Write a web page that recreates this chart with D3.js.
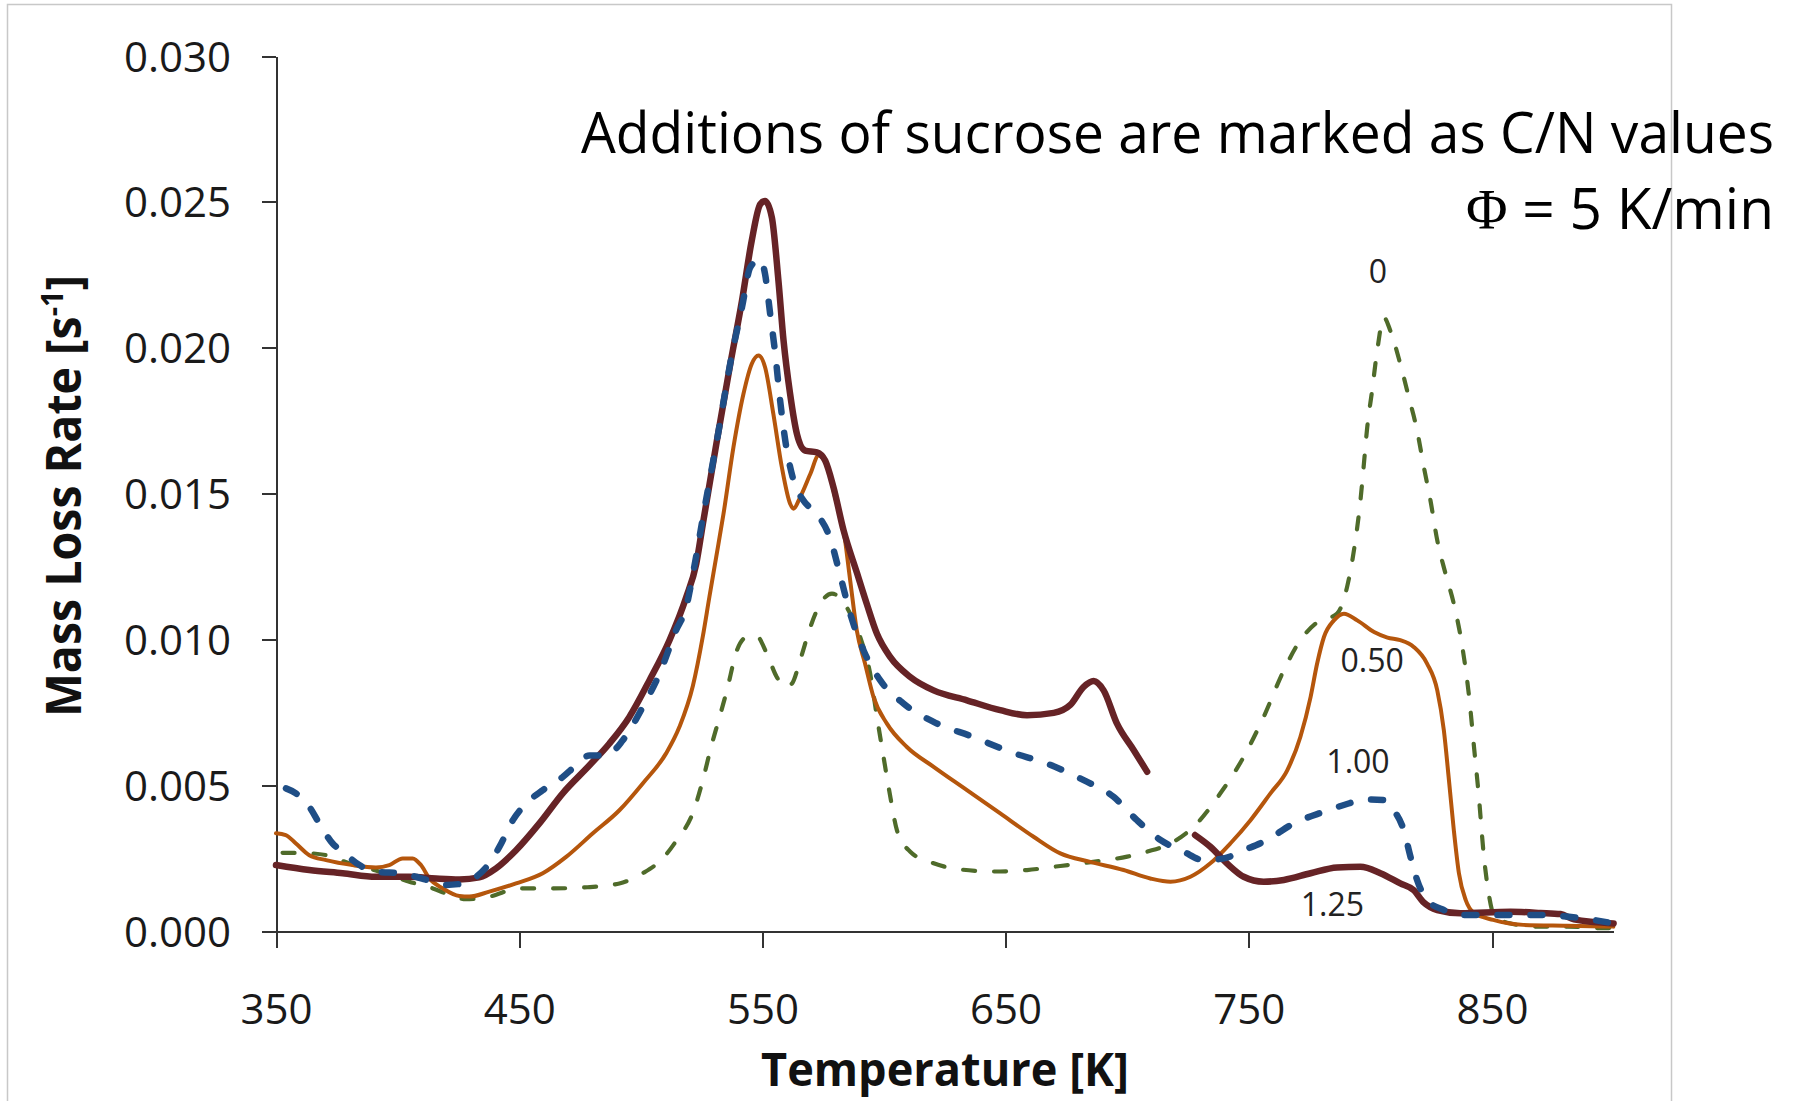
<!DOCTYPE html>
<meta charset="utf-8">
<style>
body { margin: 0; background: #fff; }
text { font-family: "Open Sans", sans-serif; fill: #1a1a1a; }
.axis path, .axis line { stroke: #333; stroke-width: 2; shape-rendering: crispEdges; }
.axis text { font-size: 42px; fill: #1a1a1a; }
.curve { fill: none; stroke-linejoin: round; }
</style>
<body>
<script src="https://d3js.org/d3.v7.min.js"></script>
<script>

// C/N = 0 (no sucrose)
var tempCN0 = [352.7,362,370.6,380,392,404.8,414.5,422,428,437.7,450,463.8,478,491.2,500.8,509,514.8,521.4,525.5,528.9,532.4,535.4,539.5,543.6,547.7,551.8,555.9,559.4,562.1,565.5,569.7,573.8,578.6,582.7,586.1,590.2,594.3,597.1,599.8,602.6,605.3,610.8,620.4,631.4,645.1,658.8,672.5,686,700,708.2,719.1,728.7,738.3,747.9,756.1,764.4,771.2,778.1,786.3,790.4,793.5,795.9,797.2,798.7,800.7,802.8,805.5,808.2,812.3,815.8,819.2,822,824.7,827.5,830.9,834.3,837.8,840.6,842.6,844.5,846.6,848.8,851,858,868.6,881,894.7,900];
var rateCN0 = [0.00268,0.00267,0.0026,0.00232,0.00205,0.00169,0.00146,0.00122,0.00109,0.00118,0.00146,0.00146,0.0015,0.00163,0.00198,0.00249,0.00312,0.00405,0.00517,0.00631,0.00734,0.00825,0.00962,0.01008,0.0101,0.00951,0.00871,0.00837,0.00848,0.00928,0.01042,0.01122,0.01157,0.01134,0.01088,0.01008,0.00883,0.00734,0.00597,0.0046,0.00346,0.00272,0.00232,0.00211,0.00204,0.00209,0.00223,0.00237,0.00255,0.00272,0.00306,0.00369,0.00472,0.00597,0.00734,0.00894,0.00997,0.01058,0.01088,0.01179,0.0132,0.01476,0.0159,0.01727,0.01853,0.0199,0.02104,0.02058,0.01944,0.0183,0.01716,0.0159,0.01476,0.01339,0.01225,0.01122,0.00974,0.00802,0.00631,0.0047,0.00262,0.0012,0.0005,0.00025,0.00015,0.00015,0.0001,0.0001];

// C/N = 0.50
var tempCN050 = [350,354,358.2,363.7,370.6,381.5,391.1,396.6,402.1,406.2,409.6,413.1,418.6,425.4,429.5,437.7,448.7,459.7,469.3,480.3,491.2,500.8,510.4,515.9,521.4,525.5,528.2,531,534,538.1,542.2,545.6,548.4,551.1,554.5,558,561.4,562.8,565.5,569.7,573.1,576.5,579.9,583.4,586.1,588.8,592.2,595.7,601.2,609.4,620.4,634.1,647.8,661.5,672.5,684.8,698.5,709.5,717.8,726,734.2,742.4,750.7,758.9,765.8,771.2,775.4,778.1,780.9,785,789.1,794.6,801.5,807,812.3,817.8,823.3,827.5,830.2,832.3,834.3,836.4,839.2,842.6,850.5,862.8,880.7,899.9];
var rateCN050 = [0.00335,0.00329,0.003,0.0026,0.00243,0.00226,0.00218,0.00226,0.00249,0.00249,0.00226,0.0018,0.00146,0.0012,0.00118,0.00135,0.00163,0.00198,0.00254,0.00335,0.00414,0.00506,0.00609,0.007,0.0084,0.0101,0.01145,0.01282,0.0143,0.01659,0.01841,0.01944,0.01973,0.01933,0.01773,0.0159,0.01465,0.01448,0.01487,0.01567,0.0163,0.01602,0.01487,0.01373,0.01202,0.01031,0.00917,0.00802,0.00711,0.00631,0.00563,0.00483,0.00403,0.00323,0.00266,0.00237,0.00209,0.0018,0.00169,0.00186,0.00232,0.003,0.0038,0.00472,0.00551,0.00665,0.00802,0.00917,0.01008,0.01065,0.01088,0.01065,0.01025,0.01006,0.00997,0.00974,0.00917,0.00825,0.00688,0.00517,0.00346,0.00198,0.00106,0.00062,0.00038,0.00021,0.00018,0.00015];

// C/N = 1.00
var tempCN100 = [354.1,358.2,363.7,367.8,373.3,377.4,384.3,391.1,402.1,407.6,414.5,419.9,426.8,432.3,437.7,441.9,447.4,452.8,459.7,467.9,473.4,478.9,485.7,492.6,500.8,507.7,514.5,518.7,521.7,525.8,531.3,537.5,541.6,545,549.1,551.1,553.2,555.3,557.3,559.4,562.8,566.9,572.4,577.9,582,586.1,591.6,598.4,608,620.4,636.8,651.9,667,682.1,694.4,704,713.7,723.2,731.4,739.7,747.9,757.5,768.5,780.9,789.1,798.7,805.5,809.6,813.7,816.5,819.2,823.3,830.2,837.2,850.5,869.8,887.6,900];
var rateCN100 = [0.00489,0.00472,0.00426,0.00369,0.003,0.00272,0.00226,0.00203,0.00198,0.00186,0.00169,0.00158,0.00163,0.00186,0.00232,0.00289,0.0038,0.00437,0.00483,0.00528,0.00568,0.00602,0.00602,0.00654,0.00768,0.00882,0.01031,0.01111,0.01236,0.0143,0.01682,0.01978,0.02138,0.02275,0.02304,0.02252,0.02115,0.01978,0.01818,0.01682,0.01545,0.01476,0.0143,0.01345,0.01219,0.01088,0.00962,0.0086,0.0078,0.00717,0.00665,0.00614,0.00574,0.00517,0.0046,0.0038,0.00312,0.00272,0.00243,0.00249,0.00277,0.00312,0.00369,0.00409,0.00432,0.00451,0.00449,0.00414,0.00346,0.00254,0.00175,0.00106,0.00072,0.00055,0.00055,0.00055,0.00043,0.00026];

// C/N = 1.25, measured in two runs (gap between them)
var tempCN125a = [350,363.7,377.4,391.1,404.8,415.8,425.4,433.6,440.5,448.7,458.3,467.9,478.9,487.1,495.3,503.6,511.8,518.7,522.8,525.6,531.3,536.8,541.6,545.6,549.1,551.1,553.9,556.6,558.7,561.4,564.2,567.6,572.4,575.8,579.2,583.4,588.8,592.9,597.1,602.6,610.8,620.4,634.1,647.8,658.8,669.8,676.6,682.1,686.2,690.3,695.8,702.7,708.2];
var rateCN125a = [0.00226,0.00209,0.00198,0.00186,0.00186,0.0018,0.00177,0.00184,0.00215,0.00277,0.00369,0.00472,0.00568,0.00643,0.00734,0.0086,0.00997,0.01145,0.01259,0.014,0.01682,0.01944,0.02161,0.02366,0.02492,0.02503,0.02446,0.02229,0.02024,0.01841,0.01704,0.01647,0.01641,0.01613,0.01522,0.01373,0.0123,0.01122,0.01019,0.00939,0.00871,0.00825,0.00791,0.00757,0.0074,0.00748,0.00775,0.00837,0.00857,0.00825,0.00711,0.0062,0.00546];
var tempCN125b = [727.9,734.2,741,747.9,756.1,764.4,775.4,786.3,795.9,804.1,812.3,817.8,821.9,827.5,837,857.6,870,878.2,883.7,900];
var rateCN125b = [0.00329,0.00289,0.00232,0.00186,0.00169,0.00175,0.00198,0.00218,0.0022,0.00198,0.00163,0.0014,0.00098,0.00072,0.00061,0.00066,0.00062,0.00058,0.0004,0.00026];

var xTicks = [350, 450, 550, 650, 750, 850];
var yTicks = [0, 0.005, 0.010, 0.015, 0.020, 0.025, 0.030];

// curve labels (C/N values) and the data point they sit at
var cnLabels = ["0", "0.50", "1.00", "1.25"];
var cnLabelTemp = [803.1, 800.7, 794.9, 784.4];
var cnLabelRate = [0.02222, 0.00888, 0.00542, 0.00051];

var width = 1798, height = 1101;

var x = d3.scaleLinear().domain([350, 900]).range([276, 1613.6]);
var y = d3.scaleLinear().domain([0, 0.030]).range([931, 56]);

var svg = d3.select("body").append("svg")
    .attr("width", width)
    .attr("height", height);

// slide frame
svg.append("rect")
    .attr("x", 7.5).attr("y", 4.5)
    .attr("width", 1664).attr("height", 1120)
    .attr("fill", "none")
    .attr("stroke", "#c8c8c8")
    .attr("stroke-width", 1.5);

var xAxis = d3.axisBottom(x).tickValues(xTicks).tickSize(17).tickSizeOuter(0).tickPadding(46);
var yAxis = d3.axisLeft(y).tickValues(yTicks).tickSize(14).tickSizeOuter(0).tickPadding(31)
    .tickFormat(d3.format(".3f"));

svg.append("g")
    .attr("class", "x axis")
    .attr("transform", "translate(0," + y(0) + ")")
    .call(xAxis);

svg.append("g")
    .attr("class", "y axis")
    .attr("transform", "translate(" + x(350) + ",0)")
    .call(yAxis);

svg.selectAll(".x.axis .tick text").attr("dy", "0.71em");
svg.selectAll(".y.axis .tick text").attr("dy", "0.36em");

var line = d3.line()
    .x(function(d) { return x(d[0]); })
    .y(function(d) { return y(d[1]); })
    .curve(d3.curveMonotoneX);

function pairs(t, r) {
  return t.map(function(d, i) { return [d, r[i]]; });
}

var series = [
  {data: pairs(tempCN0, rateCN0), color: "#4f6b2a", w: 4.2, dash: "12,19"},
  {data: pairs(tempCN050, rateCN050), color: "#b5560c", w: 4, dash: null},
  {data: pairs(tempCN125a, rateCN125a), color: "#662326", w: 6.5, dash: null},
  {data: pairs(tempCN125b, rateCN125b), color: "#662326", w: 6.5, dash: null},
  {data: pairs(tempCN100, rateCN100), color: "#1f4e86", w: 6.5, dash: "12,21"}
];

svg.selectAll(".curve")
    .data(series)
  .enter().append("path")
    .attr("class", "curve")
    .attr("d", function(d) { return line(d.data); })
    .attr("stroke", function(d) { return d.color; })
    .attr("stroke-width", function(d) { return d.w; })
    .attr("stroke-dasharray", function(d) { return d.dash; })
    .attr("stroke-linecap", "round");

svg.selectAll(".cnlabel")
    .data(cnLabels)
  .enter().append("text")
    .attr("class", "cnlabel")
    .attr("x", function(d, i) { return x(cnLabelTemp[i]); })
    .attr("y", function(d, i) { return y(cnLabelRate[i]); })
    .attr("text-anchor", "middle")
    .style("font-size", "32px")
    .style("fill", "#222")
    .text(function(d) { return d; });

// axis titles
svg.append("text")
    .attr("x", 945)
    .attr("y", 1086)
    .attr("text-anchor", "middle")
    .attr("textLength", 368)
    .attr("lengthAdjust", "spacingAndGlyphs")
    .style("font-size", "47px")
    .style("font-weight", "bold")
    .style("fill", "#111")
    .text("Temperature [K]");

var ylab = svg.append("text")
    .attr("transform", "translate(81,496) rotate(-90)")
    .attr("text-anchor", "middle")
    .attr("textLength", 442)
    .attr("lengthAdjust", "spacingAndGlyphs")
    .style("font-size", "48px")
    .style("font-weight", "bold")
    .style("fill", "#111");
ylab.append("tspan").text("Mass Loss Rate [s");
ylab.append("tspan").attr("dy", -18).style("font-size", "30px").text("-1");
ylab.append("tspan").attr("dy", 18).text("]");

// notes
svg.append("text")
    .attr("x", 1774)
    .attr("y", 153)
    .attr("text-anchor", "end")
    .attr("textLength", 1193)
    .attr("lengthAdjust", "spacingAndGlyphs")
    .style("font-size", "57px")
    .style("fill", "#000")
    .text("Additions of sucrose are marked as C/N values");

var phi = svg.append("text")
    .attr("x", 1774)
    .attr("y", 229)
    .attr("text-anchor", "end")
    .attr("textLength", 308)
    .attr("lengthAdjust", "spacingAndGlyphs")
    .style("font-size", "57px")
    .style("fill", "#000");
phi.append("tspan").style("font-family", "'Liberation Serif', serif").text("\u03A6");
phi.append("tspan").text(" = 5 K/min");

</script>
